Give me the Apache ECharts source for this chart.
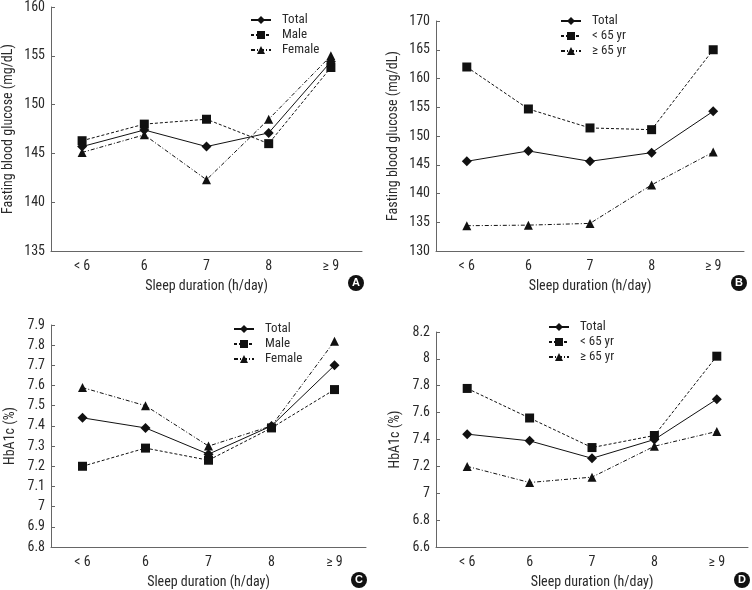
<!DOCTYPE html>
<html><head><meta charset="utf-8">
<script src="https://cdn.jsdelivr.net/npm/echarts@6/dist/echarts.min.js"></script>
<style>html,body{margin:0;padding:0;background:#fff}#c{width:752px;height:590px}</style>
</head><body><div id="c"></div>
<script>
const categories = ['< 6', '6', '7', '8', '≥ 9'];
// Panel A: fasting blood glucose by sex
const fbgTotal = [145.7, 147.4, 145.7, 147.1, 154.4];
const fbgMale = [146.3, 148.0, 148.5, 146.0, 153.8];
const fbgFemale = [145.1, 146.9, 142.3, 148.5, 155.0];
// Panel B: fasting blood glucose by age
const fbgTotalB = [145.6, 147.4, 145.6, 147.1, 154.3];
const fbgUnder65 = [162.0, 154.7, 151.4, 151.1, 165.0];
const fbgOver65 = [134.4, 134.5, 134.8, 141.5, 147.2];
// Panel C: HbA1c by sex
const hbaTotal = [7.44, 7.39, 7.26, 7.40, 7.70];
const hbaMale = [7.20, 7.29, 7.23, 7.39, 7.58];
const hbaFemale = [7.59, 7.50, 7.30, 7.40, 7.82];
// Panel D: HbA1c by age
const hbaTotalD = [7.44, 7.39, 7.26, 7.40, 7.70];
const hbaUnder65 = [7.78, 7.56, 7.34, 7.43, 8.02];
const hbaOver65 = [7.20, 7.08, 7.12, 7.35, 7.46];

const FONT = "'Liberation Sans Narrow','Arial Narrow','Roboto Condensed','Liberation Sans',sans-serif";
const TXT = '#2a2a2a', AX = '#666', LN = '#111';

const grids = [
  {left: 51, top: 7, width: 311, height: 244},
  {left: 436, top: 21, width: 308, height: 230},
  {left: 51, top: 325, width: 315, height: 224},
  {left: 436, top: 332, width: 312, height: 217}
];
const yCfg = [
  {min: 135, max: 160, interval: 5, name: 'Fasting blood glucose (mg/dL)', gap: 36},
  {min: 130, max: 170, interval: 5, name: 'Fasting blood glucose (mg/dL)', gap: 36},
  {min: 6.8, max: 7.9, interval: 0.1, name: 'HbA1c (%)', gap: 34},
  {min: 6.6, max: 8.2, interval: 0.2, name: 'HbA1c (%)', gap: 34}
];
const xAxis = grids.map((g, i) => ({
  type: 'category', gridIndex: i, data: categories, boundaryGap: true,
  axisLine: {lineStyle: {color: AX, width: 1}},
  axisTick: {inside: true, length: 4, lineStyle: {color: AX}},
  axisLabel: {color: TXT, fontFamily: FONT, fontSize: 14, margin: 8},
  name: 'Sleep duration (h/day)', nameLocation: 'middle', nameGap: 28,
  nameTextStyle: {color: TXT, fontFamily: FONT, fontSize: 14}
}));
const yAxis = yCfg.map((c, i) => ({
  type: 'value', gridIndex: i, min: c.min, max: c.max, interval: c.interval,
  axisLine: {show: true, lineStyle: {color: AX, width: 1}},
  axisTick: {show: true, inside: true, length: 4, lineStyle: {color: AX}},
  axisLabel: {color: TXT, fontFamily: FONT, fontSize: 14, margin: 6},
  splitLine: {show: false},
  name: c.name, nameLocation: 'middle', nameGap: c.gap,
  nameTextStyle: {color: TXT, fontFamily: FONT, fontSize: 14}
}));

function mk(name, data, idx, kind) {
  const sym = {total: 'diamond', sq: 'rect', tri: 'triangle'}[kind];
  const size = {total: 10, sq: 9, tri: 9}[kind];
  const dash = {total: 'solid', sq: [3, 2], tri: [4, 2, 1, 2]}[kind];
  return {
    type: 'line', name, data, xAxisIndex: idx, yAxisIndex: idx,
    symbol: sym, symbolSize: size, showSymbol: true,
    z: kind === 'total' ? 5 : 3,
    lineStyle: {color: LN, width: 1, type: dash},
    itemStyle: {color: LN, borderWidth: 0},
    emphasis: {disabled: true}, animation: false
  };
}
const series = [
  mk('Total', fbgTotal, 0, 'total'), mk('Male', fbgMale, 0, 'sq'), mk('Female', fbgFemale, 0, 'tri'),
  mk('Total', fbgTotalB, 1, 'total'), mk('< 65 yr', fbgUnder65, 1, 'sq'), mk('≥ 65 yr', fbgOver65, 1, 'tri'),
  mk('Total', hbaTotal, 2, 'total'), mk('Male', hbaMale, 2, 'sq'), mk('Female', hbaFemale, 2, 'tri'),
  mk('Total', hbaTotalD, 3, 'total'), mk('< 65 yr', hbaUnder65, 3, 'sq'), mk('≥ 65 yr', hbaOver65, 3, 'tri')
];
const legPos = [
  {left: 250, top: 13, data: ['Total', 'Male', 'Female']},
  {left: 560, top: 14, data: ['Total', '< 65 yr', '≥ 65 yr']},
  {left: 233, top: 322, data: ['Total', 'Male', 'Female']},
  {left: 548, top: 320, data: ['Total', '< 65 yr', '≥ 65 yr']}
];
const legend = legPos.map(l => ({
  left: l.left, top: l.top, orient: 'vertical', data: l.data, padding: 0,
  itemWidth: 20, itemHeight: 10, itemGap: 1, selectedMode: false,
  formatter: n => '  ' + n,
  textStyle: {color: TXT, fontFamily: FONT, fontSize: 13, lineHeight: 14}
}));
const badges = [['A', 356, 283], ['B', 739, 283], ['C', 359, 580], ['D', 742, 580]];
const graphic = [];
badges.forEach(b => {
  graphic.push({type: 'circle', shape: {cx: b[1], cy: b[2], r: 8}, style: {fill: '#111'}});
  graphic.push({type: 'text', x: b[1], y: b[2], style: {text: b[0], fill: '#fff', font: "bold 11px 'Liberation Sans',sans-serif", align: 'center', verticalAlign: 'middle'}});
});

const chart = echarts.init(document.getElementById('c'), null, {renderer: 'canvas'});
chart.setOption({
  backgroundColor: '#fff', animation: false,
  grid: grids, xAxis, yAxis, series, legend, graphic
});
</script></body></html>
